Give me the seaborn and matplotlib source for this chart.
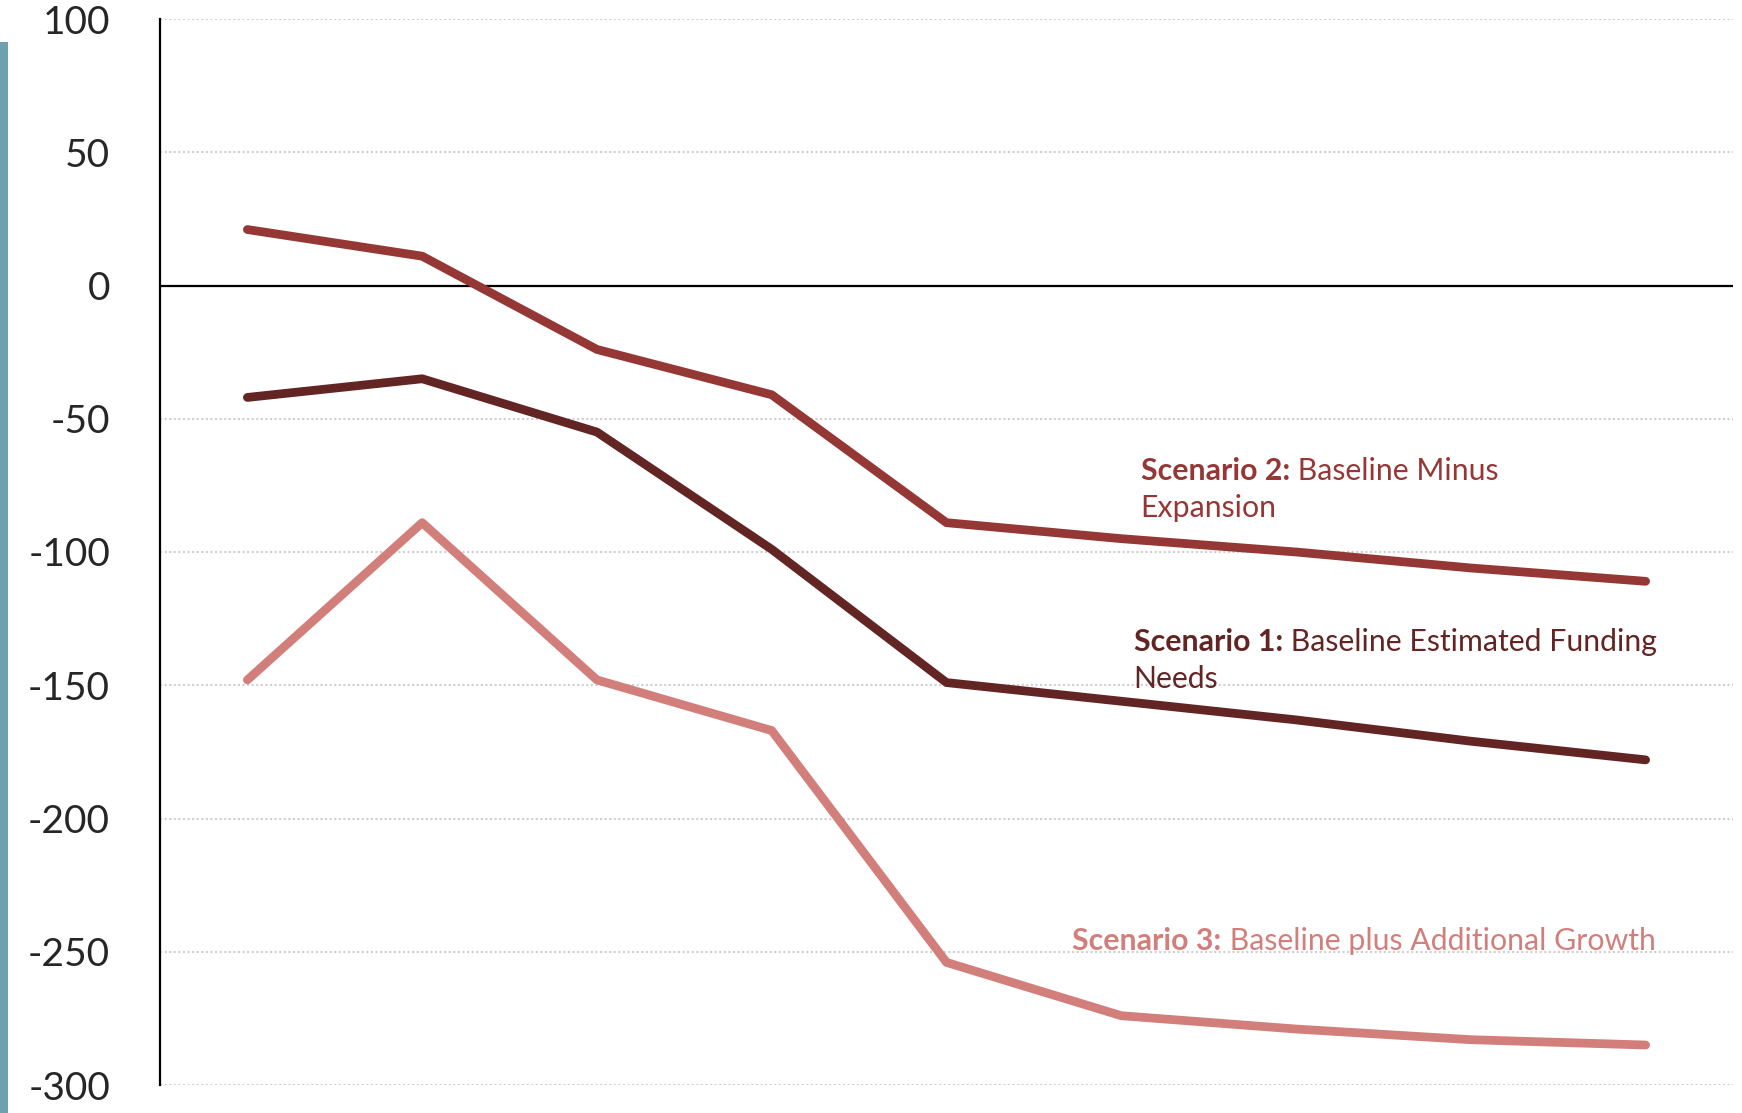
import pandas as pd
import matplotlib.pyplot as plt
import seaborn as sns
from matplotlib.patches import Rectangle

# values, one per period (no x labels in the original)
periods = list(range(9))
scenario_1 = [-42, -35, -55, -99, -149, -156, -163, -171, -178]
scenario_2 = [21, 11, -24, -41, -89, -95, -100, -106, -111]
scenario_3 = [-148, -89, -148, -167, -254, -274, -279, -283, -285]
y_ticks = [-300, -250, -200, -150, -100, -50, 0, 50, 100]
y_labels = ['-300', '-250', '-200', '-150', '-100', '-50', '0', '50', '100']

names = ['Scenario 1', 'Scenario 2', 'Scenario 3']
colors = {'Scenario 1': '#632523', 'Scenario 2': '#953735', 'Scenario 3': '#D27F7B'}

df = pd.DataFrame({
    'period': periods * 3,
    'value': scenario_1 + scenario_2 + scenario_3,
    'scenario': [n for n in names for _ in periods],
})

sns.set_style('white')
plt.rcParams['font.family'] = ['Lato', 'DejaVu Sans']
plt.rcParams['axes.unicode_minus'] = False

fig = plt.figure(figsize=(17.42, 11.13), dpi=100)
ax = fig.add_axes([160 / 1742, 28 / 1113, (1733 - 160) / 1742, (1085 - 19) / 1113])

ax.yaxis.grid(True, linestyle=(0, (1, 1.2)), color='#cfcfcf', linewidth=1.5)
ax.set_axisbelow(True)
ax.axhline(0, color='black', linewidth=1.6, zorder=2)

sns.lineplot(data=df, x='period', y='value', hue='scenario', palette=colors,
             linewidth=6.3, legend=False, ax=ax, solid_capstyle='round', zorder=3)

ax.set_xlim(-0.5, 8.5)
ax.set_ylim(-300, 100)
ax.set_yticks(y_ticks)
ax.set_yticklabels(y_labels, fontsize=28)
ax.set_xticks([])
ax.set_xlabel('')
ax.set_ylabel('')
ax.tick_params(axis='y', length=0, pad=36)

for side in ['top', 'right', 'bottom']:
    ax.spines[side].set_visible(False)
ax.spines['left'].set_color('black')
ax.spines['left'].set_linewidth(1.6)

# inline labels: bold lead, regular rest
def label(x, y, bold, rest, second, color):
    t = ax.text(x, y, bold, fontsize=21.8, fontweight='bold', color=color, va='baseline')
    ax.annotate(' ' + rest, xy=(1, 0), xycoords=t, fontsize=21.8, color=color, va='bottom')
    if second:
        ax.text(x, y - 14, second, fontsize=21.8, color=color, va='baseline')

label(5.11, -73, 'Scenario 2:', 'Baseline Minus', 'Expansion', colors['Scenario 2'])
label(5.07, -137, 'Scenario 1:', 'Baseline Estimated Funding', 'Needs', colors['Scenario 1'])
label(4.72, -249.5, 'Scenario 3:', 'Baseline plus Additional Growth', None, colors['Scenario 3'])

# thin blue-grey bar at the left edge
fig.patches.append(Rectangle((0, 0), 8 / 1742, (1113 - 42) / 1113, transform=fig.transFigure,
                             facecolor='#6FA0B0', edgecolor='none'))

fig.savefig('out.png', dpi=100)
